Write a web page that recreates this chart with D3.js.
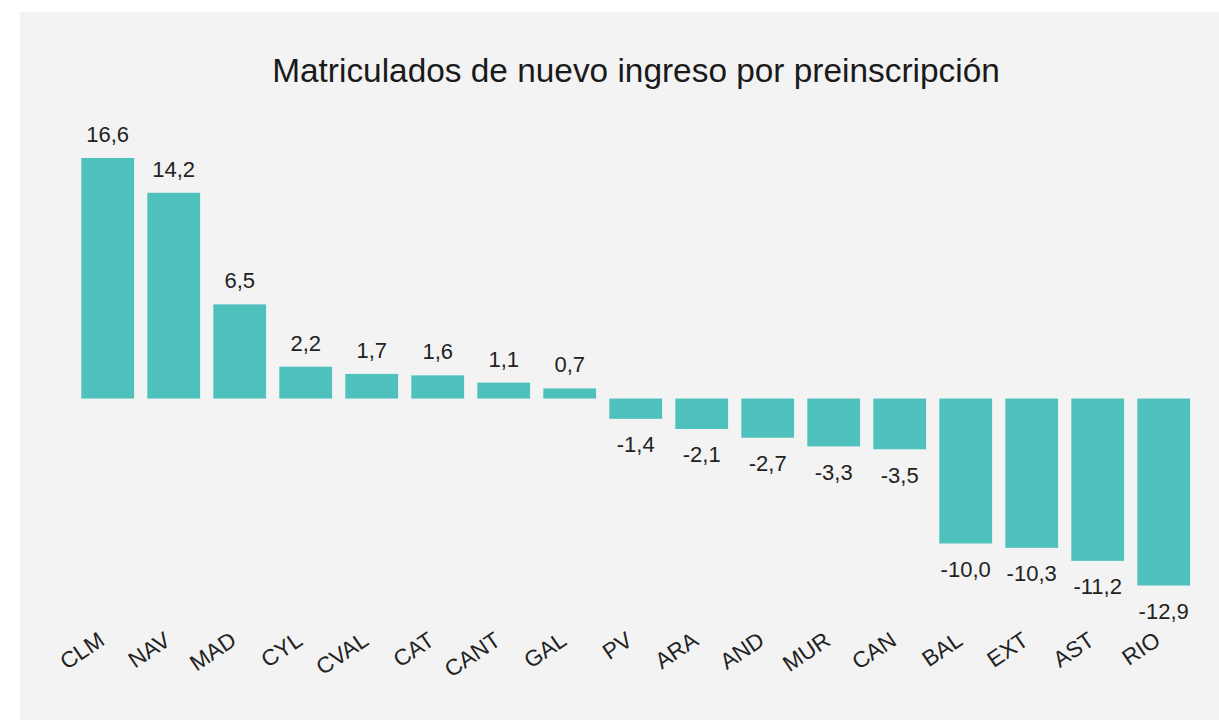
<!DOCTYPE html>
<html>
<head>
<meta charset="utf-8">
<script src="https://cdn.jsdelivr.net/npm/d3@7"></script>
<style>
  html, body { margin: 0; padding: 0; background: #ffffff; }
  svg { display: block; font-family: "Liberation Sans", Arial, sans-serif; }
</style>
</head>
<body>
<div id="app"></div>
<script>
const regions = ['CLM', 'NAV', 'MAD', 'CYL', 'CVAL', 'CAT', 'CANT', 'GAL', 'PV', 'ARA', 'AND', 'MUR', 'CAN', 'BAL', 'EXT', 'AST', 'RIO']
const values = [16.6, 14.2, 6.5, 2.2, 1.7, 1.6, 1.1, 0.7, -1.4, -2.1, -2.7, -3.3, -3.5, -10.0, -10.3, -11.2, -12.9]
const title = 'Matriculados de nuevo ingreso por preinscripción'

const width = 1219
const height = 720
const data = regions.map((r, i) => ({ region: r, value: values[i] }))

const svg = d3.select('#app')
  .append('svg')
  .attr('width', width)
  .attr('height', height)

// panel
svg.append('rect')
  .attr('x', 20)
  .attr('y', 12)
  .attr('width', width - 20)
  .attr('height', height - 12)
  .attr('fill', '#f3f3f3')

svg.append('text')
  .attr('x', 636)
  .attr('y', 82)
  .attr('text-anchor', 'middle')
  .attr('font-size', 33.4)
  .attr('fill', '#1a1a1a')
  .text(title)

const x = d3.scaleBand()
  .domain(regions)
  .range([74.7, 1196.7])
  .paddingInner(0.2)
  .paddingOuter(0.1)

const y = d3.scaleLinear()
  .domain([d3.min(values), d3.max(values)])
  .range([585.5, 158])

const fmt = v => d3.format('.1f')(v).replace('.', ',').replace('−', '-')

svg.selectAll('rect.bar')
  .data(data)
  .join('rect')
  .attr('class', 'bar')
  .attr('x', d => x(d.region))
  .attr('width', x.bandwidth())
  .attr('y', d => d.value >= 0 ? y(d.value) : y(0))
  .attr('height', d => Math.abs(y(d.value) - y(0)))
  .attr('fill', '#4fc1bd')

svg.selectAll('text.val')
  .data(data)
  .join('text')
  .attr('class', 'val')
  .attr('x', d => x(d.region) + x.bandwidth() / 2)
  .attr('y', d => d.value >= 0 ? y(d.value) - 16 : y(d.value) + 33.5)
  .attr('text-anchor', 'middle')
  .attr('font-size', 22)
  .attr('fill', '#222')
  .text(d => fmt(d.value))

// category axis
const axis = svg.append('g')
  .attr('transform', 'translate(0,622)')
  .call(d3.axisBottom(x).tickSize(0).tickPadding(0))

axis.select('.domain').remove()
axis.selectAll('text')
  .attr('font-size', 22.5)
  .attr('fill', '#222')
  .attr('font-family', '"Liberation Sans", Arial, sans-serif')
  .attr('text-anchor', 'end')
  .attr('dy', '0.9em')
  .attr('transform', 'translate(-13,5) rotate(-34)')
</script>
</body>
</html>
